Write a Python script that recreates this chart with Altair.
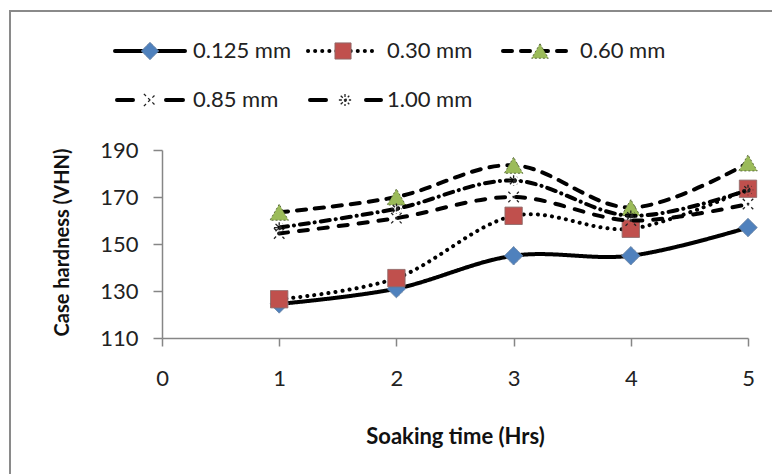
import altair as alt
import pandas as pd

# ---- data ----
hours = [1, 2, 3, 4, 5]
series_names = ["0.125 mm", "0.30 mm", "0.60 mm", "0.85 mm", "1.00 mm"]
s_0125 = [124.5, 131.0, 145.0, 145.0, 157.0]
s_030 = [126.5, 135.5, 162.0, 156.5, 173.5]
s_060 = [163.5, 170.0, 183.5, 165.5, 184.5]
s_085 = [154.5, 161.0, 170.0, 160.0, 167.0]
s_100 = [157.0, 165.0, 177.0, 162.0, 173.0]
x_ticks = [0, 1, 2, 3, 4, 5]
y_ticks = [110, 130, 150, 170, 190]

values = [s_0125, s_030, s_060, s_085, s_100]

# ---- layout / style ----
W, H = 586, 188
PAD_L, PAD_T, PAD_R, PAD_B = 162, 150, 24, 136
FONT = "Lato"
AXIS_GRAY = "#868686"

ASTERISK = "M-1,0L1,0M0,-1L0,1M-0.7,-0.7L0.7,0.7M-0.7,0.7L0.7,-0.7"
XMARK = "M-1,-1L1,1M-1,1L1,-1"

styles = [
    dict(dash=[1, 0], shape="diamond", size=340, fill="#4F81BD", stroke="#6d86a6", sw=1, mdash=[1, 0], lsize=300),
    dict(dash=[0.1, 7], shape="square", size=300, fill="#C0504D", stroke="#8f6a69", sw=1, mdash=[1, 0], lsize=260),
    dict(dash=[9, 9], shape="triangle-up", size=340, fill="#9BBB59", stroke="#5f6e43", sw=1, mdash=[2, 2], lsize=280),
    dict(dash=[9, 11], shape=XMARK, size=110, fill="transparent", stroke="#222222", sw=1.3, mdash=[3, 3], lsize=150),
    dict(dash=[9, 6, 0.1, 6], shape=ASTERISK, size=110, fill="transparent", stroke="#222222", sw=1.3, mdash=[3, 2], lsize=150),
]

# legend layout (absolute page px): line segments, segment dash, marker x, label x, row y
legend_pos = [
    ([(115, 185)], None, 150, 193, 51),
    ([(308, 375)], None, 343, 387, 51),
    ([(503, 575)], None, 540, 580, 51),
    ([(117, 133), (166, 183)], [1, 0], 150, 193, 100),
    ([(310, 326), (366, 381)], [1, 0], 345, 387, 100),
]

def px(v):
    return v - PAD_L

def py(v):
    return v - PAD_T

x_scale = alt.Scale(domain=[0, 5], nice=False, zero=False)
y_scale = alt.Scale(domain=[110, 190], nice=False, zero=False)

x_axis = alt.Axis(
    values=x_ticks, format="d", grid=False, domainColor=AXIS_GRAY, domainWidth=1.5,
    tickColor=AXIS_GRAY, tickSize=8, tickWidth=1.5, labelFont=FONT, labelFontSize=22,
    labelColor="#222222", labelPadding=22, labelFlush=False,
    title="Soaking time (Hrs)", titleFont=FONT,
    titleFontSize=22, titleFontWeight="bold", titleColor="#111111",
    titleX=293, titleY=98, titleBaseline="middle", titleAlign="center",
)
y_axis = alt.Axis(
    values=y_ticks, grid=False, domainColor=AXIS_GRAY, domainWidth=1.5,
    tickColor=AXIS_GRAY, tickSize=9, tickWidth=1.5, labelFont=FONT, labelFontSize=22,
    labelColor="#222222", labelPadding=15, labelFlush=False,
    title="Case hardness (VHN)", titleFont=FONT,
    titleFontSize=20, titleFontWeight="bold", titleColor="#111111",
    titleAngle=-90, titleX=-100, titleY=92, titleBaseline="middle", titleAlign="center",
)

layers = []

# outer chart border
border = alt.Chart(pd.DataFrame({"a": [0]})).mark_rect(
    fill="transparent", stroke="#8a8a8a", strokeWidth=2
).encode(
    x=alt.value(px(10)), x2=alt.value(px(800)), y=alt.value(py(11)), y2=alt.value(py(500))
)
layers.append(border)

# axes carrier
axes_df = pd.DataFrame({"hours": hours, "v": s_0125})
axes = alt.Chart(axes_df).mark_point(opacity=0).encode(
    x=alt.X("hours:Q", scale=x_scale, axis=x_axis),
    y=alt.Y("v:Q", scale=y_scale, axis=y_axis),
)
layers.append(axes)

for name, vals, st, lp in zip(series_names, values, styles, legend_pos):
    df = pd.DataFrame({"hours": hours, "v": vals, "series": name})
    line = alt.Chart(df).mark_line(
        interpolate="cardinal", color="black", strokeWidth=4, strokeDash=st["dash"],
        strokeCap="round",
    ).encode(
        x=alt.X("hours:Q", scale=x_scale),
        y=alt.Y("v:Q", scale=y_scale),
    )
    pts = alt.Chart(df).mark_point(
        shape=st["shape"], size=st["size"], filled=True, fill=st["fill"], stroke=st["stroke"],
        strokeWidth=st["sw"], strokeDash=st["mdash"], opacity=1,
    ).encode(
        x=alt.X("hours:Q", scale=x_scale),
        y=alt.Y("v:Q", scale=y_scale),
    )
    layers += [line, pts]

    # legend entry
    segs, sdash, mx, lx, ry = lp
    ldf = pd.DataFrame({"series": [name]})
    for (x0, x1) in segs:
        lrule = alt.Chart(ldf).mark_rule(
            color="black", strokeWidth=4, strokeDash=sdash if sdash else st["dash"],
            strokeCap="round",
        ).encode(x=alt.value(px(x0)), x2=alt.value(px(x1)), y=alt.value(py(ry)))
        layers.append(lrule)
    lpt = alt.Chart(ldf).mark_point(
        shape=st["shape"], size=st["lsize"], filled=True, fill=st["fill"], stroke=st["stroke"],
        strokeWidth=st["sw"], strokeDash=st["mdash"], opacity=1,
    ).encode(x=alt.value(px(mx)), y=alt.value(py(ry)))
    ltxt = alt.Chart(ldf).mark_text(
        align="left", baseline="middle", font=FONT, fontSize=22, color="#222222"
    ).encode(x=alt.value(px(lx)), y=alt.value(py(ry)), text="series:N")
    layers += [lpt, ltxt]

chart = alt.layer(*layers).properties(
    width=W, height=H,
    padding={"left": PAD_L, "top": PAD_T, "right": PAD_R, "bottom": PAD_B},
    autosize=alt.AutoSizeParams(type="none"),
    background="white",
).configure_view(stroke=None)

chart.save("out.html", embed_options={"renderer": "svg", "actions": False})
